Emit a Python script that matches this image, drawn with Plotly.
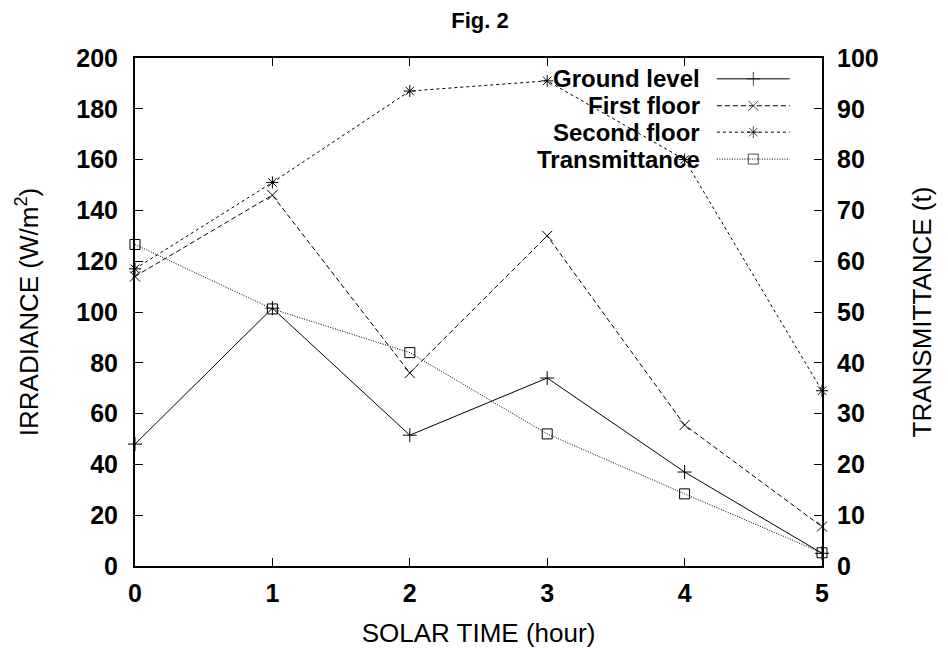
import plotly.graph_objects as go

# ---------------- data ----------------
hours = [0, 1, 2, 3, 4, 5]
ground_level = [48, 101.5, 51.5, 74, 37, 5]
first_floor = [114, 146, 76, 130, 55.5, 15.5]
second_floor = [117, 151, 187, 191, 160, 69]
transmittance = [63.3, 50.6, 42, 26, 14.2, 2.6]
series_names = ["Ground level", "First floor", "Second floor", "Transmittance"]
x_ticks = [0, 1, 2, 3, 4, 5]
y_ticks = [0, 20, 40, 60, 80, 100, 120, 140, 160, 180, 200]
y2_ticks = [0, 10, 20, 30, 40, 50, 60, 70, 80, 90, 100]

# ---------------- styles ----------------
FONT = "Liberation Sans, Arial, sans-serif"
styles = [
    dict(dash="solid", symbol="cross-thin", size=10),
    dict(dash="5px,3px", symbol="x-thin", size=10),
    dict(dash="3px,3px", symbol="asterisk-open", size=10),
    dict(dash="1px,1.5px", symbol="square-open", size=10),
]
series = [ground_level, first_floor, second_floor, transmittance]
axes = ["y", "y", "y", "y2"]

fig = go.Figure()
for name, vals, st, ax in zip(series_names, series, styles, axes):
    fig.add_trace(go.Scatter(
        x=hours, y=vals, name=name, yaxis=ax, mode="lines+markers",
        line=dict(color="black", width=1, dash=st["dash"]),
        marker=dict(symbol=st["symbol"], size=st["size"], color="black",
                    line=dict(color="black", width=1)),
        showlegend=False, cliponaxis=False,
    ))

# ---------------- hand-made legend (text left of key, like gnuplot) ----------------
leg_rows = [0.959, 0.906, 0.854, 0.801]
leg_x0, leg_xm, leg_x1, leg_text_x = 0.847, 0.90, 0.953, 0.825
for name, st, ry in zip(series_names, styles, leg_rows):
    fig.add_trace(go.Scatter(
        x=[leg_x0, leg_xm, leg_x1], y=[ry, ry, ry], xaxis="x3", yaxis="y3",
        mode="lines+markers", showlegend=False, hoverinfo="skip",
        line=dict(color="black", width=1, dash=st["dash"]),
        marker=dict(symbol=st["symbol"], size=[0, st["size"], 0], color="black",
                    line=dict(color="black", width=1)),
    ))
    fig.add_annotation(x=leg_text_x, y=ry, xref="paper", yref="paper",
                       text=name, showarrow=False, xanchor="right", yanchor="middle",
                       font=dict(family=FONT, size=24, color="black", weight="bold"))

tickfont = dict(family=FONT, size=25, color="black", weight="bold")
titlefont = dict(family=FONT, size=26, color="black")

fig.update_layout(
    width=940, height=640,
    paper_bgcolor="white", plot_bgcolor="white",
    margin=dict(l=127, r=126, t=50, b=82),
    title=dict(text="Fig. 2", x=472 / 940, xanchor="center", y=1 - 12 / 640,
               yanchor="middle", xref="container", yref="container",
               font=dict(family=FONT, size=22, color="black", weight="bold")),
    xaxis=dict(range=[0, 5], tickvals=x_ticks, ticks="inside", ticklen=8,
               tickwidth=1, tickcolor="black", showline=True, linecolor="black",
               linewidth=2, mirror="ticks", showgrid=False, zeroline=False,
               tickfont=tickfont, ticklabelstandoff=4, automargin=False,
               title=dict(text="SOLAR TIME (hour)", font=titlefont, standoff=18)),
    yaxis=dict(range=[0, 200], tickvals=y_ticks, ticks="inside", ticklen=8,
               tickwidth=1, tickcolor="black", showline=True, linecolor="black",
               linewidth=2, showgrid=False, zeroline=False, automargin=False,
               tickfont=tickfont, ticklabelstandoff=10,
               title=dict(text="IRRADIANCE (W/m<sup>2</sup>)", font=titlefont, standoff=30)),
    yaxis2=dict(range=[0, 100], tickvals=y2_ticks, overlaying="y", side="right",
                ticks="inside", ticklen=8, tickwidth=1, tickcolor="black",
                showline=True, linecolor="black", linewidth=2, showgrid=False,
                zeroline=False, tickfont=tickfont, ticklabelstandoff=8, automargin=False,
                title=dict(text="TRANSMITTANCE (t)", font=titlefont, standoff=35)),
    xaxis3=dict(range=[0, 1], overlaying="x", visible=False, fixedrange=True),
    yaxis3=dict(range=[0, 1], overlaying="y", visible=False, fixedrange=True),
)

fig.write_html("out.html")
